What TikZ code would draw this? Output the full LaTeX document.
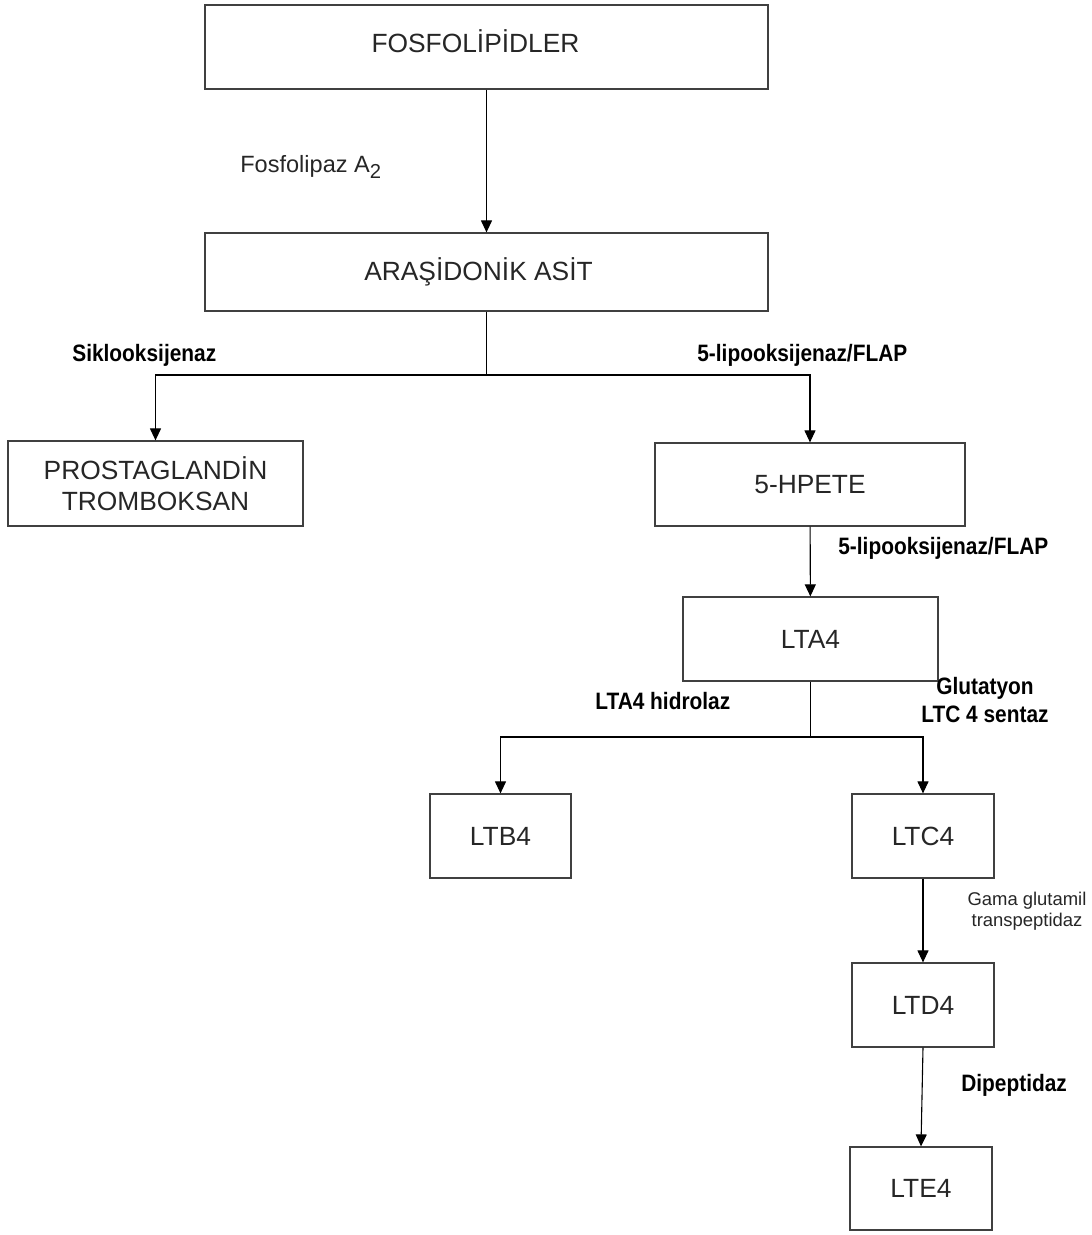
\documentclass[tikz,border=0pt]{standalone}
\usepackage{fontspec}
\setmainfont{Liberation Sans}
\newfontfamily\enzymfont[FakeStretch=0.88]{Liberation Sans}
\usetikzlibrary{arrows.meta}
\definecolor{boxline}{HTML}{404040}
\definecolor{boxtext}{HTML}{262626}
\begin{document}
\begin{tikzpicture}[x=0.02cm,y=-0.02cm,
    stage/.style={draw=boxline,line width=0.025cm,rectangle,inner sep=0pt,
      text=boxtext,align=center,font=\fontsize{15}{17.6}\selectfont},
    flow/.style={line width=0.022cm,-{Triangle[width=0.22cm,length=0.24cm]}},
    branch/.style={line width=0.022cm},
    enzym/.style={inner sep=0pt,font=\enzymfont\bfseries\fontsize{13.5}{15.9}\selectfont},
    note/.style={inner sep=0pt,text=boxtext}]
                    \useasboundingbox (0,0) rectangle (1092,1235);%

                    % Marking box FOSFOLIPIDLER
                    \node [stage,minimum width=11.26cm,minimum height=1.68cm] (fosfo) at (486.5,47) {\raisebox{0.24cm}{FOSFOLİPİDLER}\hspace*{0.44cm}};%

                    % Marking box ARASIDONIK ASIT
                    \node [stage,minimum width=11.26cm,minimum height=1.56cm] (arasidonik) at (486.5,272) {\raisebox{0.07cm}{ARAŞİDONİK ASİT}\hspace*{0.32cm}};%

                    % Marking box PROSTAGLANDIN
                    \node [stage,minimum width=5.9cm,minimum height=1.7cm] (prosta) at (155.5,483.5) {PROSTAGLANDİN\\TROMBOKSAN};%

                    % Marking box 5-HPETE
                    \node [stage,minimum width=6.2cm,minimum height=1.66cm] (hpete) at (810,484.5) {5-HPETE};%

                    % Marking box LTA4
                    \node [stage,minimum width=5.1cm,minimum height=1.68cm] (lta) at (810.5,639) {LTA4};%

                    % Marking boxes LTB4, LTC4, LTD4, LTE4
                    \node [stage,minimum width=2.82cm,minimum height=1.68cm] (ltb) at (500.5,836) {LTB4};%
                    \node [stage,minimum width=2.84cm,minimum height=1.68cm] (ltc) at (923,836) {LTC4};%
                    \node [stage,minimum width=2.84cm,minimum height=1.68cm] (ltd) at (923,1005) {LTD4};%
                    \node [stage,minimum width=2.84cm,minimum height=1.66cm] (lte) at (921,1188.5) {LTE4};%

                    % Branch points
                    \coordinate (split1) at (486.5,375);%
                    \coordinate (split2) at (810.5,737);%

                    % Drawing segment FOSFOLIPIDLER ARASIDONIK ASIT
                    \draw [flow] (fosfo) -- (arasidonik);%

                    % Drawing segments ARASIDONIK ASIT split1 PROSTAGLANDIN / 5-HPETE
                    \draw [branch] (arasidonik) -- (split1);%
                    \draw [flow] (split1) -| (prosta);%
                    \draw [flow] (split1) -| (hpete);%

                    % Drawing segment 5-HPETE LTA4
                    \draw [flow] (hpete) -- (lta);%

                    % Drawing segments LTA4 split2 LTB4 / LTC4
                    \draw [branch] (lta) -- (split2);%
                    \draw [flow] (split2) -| (ltb);%
                    \draw [flow] (split2) -| (ltc);%

                    % Drawing segments LTC4 LTD4 LTE4
                    \draw [flow] (ltc) -- (ltd);%
                    \draw [flow] (ltd.south) -- (lte.north);%

                    % Marking enzyme Fosfolipaz A2
                    \node [note,anchor=west,font=\fontsize{13.4}{16}\selectfont] (pla) at (240,167) {Fosfolipaz A\raisebox{-0.12cm}{\fontsize{11.5}{12}\selectfont 2}};%

                    % Marking enzyme Siklooksijenaz
                    \node [enzym,anchor=west] (cox) at (72,355) {Siklooksijenaz};%

                    % Marking enzyme 5-lipooksijenaz/FLAP
                    \node [enzym,anchor=west] (lox1) at (697,355) {5-lipooksijenaz/FLAP};%
                    \node [enzym,anchor=west] (lox2) at (838,548) {5-lipooksijenaz/FLAP};%

                    % Marking enzyme LTA4 hidrolaz
                    \node [enzym,anchor=west] (hidrolaz) at (595,701) {LTA4 hidrolaz};%

                    % Marking enzyme LTC 4 sentaz
                    \node [enzym,align=center] (sentaz) at (985,700) {Glutatyon\\LTC 4 sentaz};%

                    % Marking enzyme Gama glutamil transpeptidaz
                    \node [note,align=center,font=\fontsize{10.5}{12}\selectfont] (ggt) at (1027,911) {Gama glutamil\\transpeptidaz};%

                    % Marking enzyme Dipeptidaz
                    \node [enzym,anchor=west] (dipep) at (961,1085) {Dipeptidaz};%
\end{tikzpicture}
\end{document}
